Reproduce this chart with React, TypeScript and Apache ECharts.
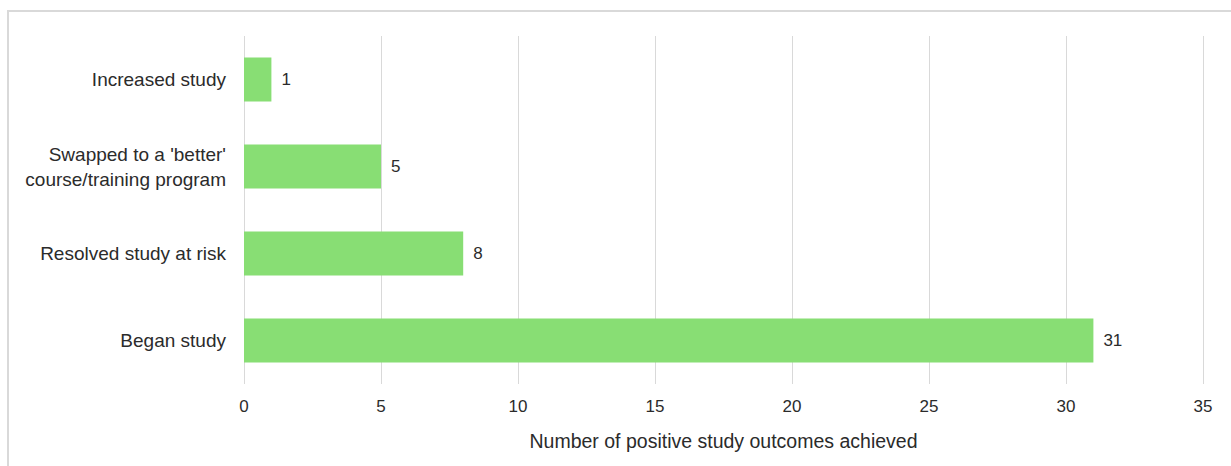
import React, { useEffect, useRef } from "react";
import * as echarts from "echarts";

const categories = ["Began study", "Resolved study at risk", "Swapped to a 'better'\ncourse/training program", "Increased study"];
const values = [31, 8, 5, 1];
const xTicks = { min: 0, max: 35, interval: 5 };
const xAxisName = "Number of positive study outcomes achieved";

const FONT = "'Liberation Sans', Arial, sans-serif";
const TEXT = "#2b2b2b";

export default function App() {
  const ref = useRef<HTMLDivElement>(null);
  useEffect(() => {
    const chart = echarts.init(ref.current!, undefined, { renderer: "svg" });
    chart.setOption({
      animation: false,
      textStyle: { fontFamily: FONT },
      graphic: [
        {
          type: "rect",
          shape: { x: 8, y: 11, width: 1400, height: 600 },
          style: { fill: "none", stroke: "#d9d9d9", lineWidth: 2 },
          silent: true,
        },
      ],
      grid: { left: 244, right: 28, top: 36, bottom: 82 },
      xAxis: {
        type: "value",
        min: xTicks.min,
        max: xTicks.max,
        interval: xTicks.interval,
        axisLine: { show: false },
        axisTick: { show: false },
        splitLine: { show: true, lineStyle: { color: "#d9d9d9", width: 1 } },
        axisLabel: { color: TEXT, fontSize: 17, margin: 14, fontFamily: FONT },
        name: xAxisName,
        nameLocation: "middle",
        nameGap: 47,
        nameTextStyle: { color: TEXT, fontSize: 19.5, fontFamily: FONT },
      },
      yAxis: {
        type: "category",
        data: categories,
        axisLine: { show: false },
        axisTick: { show: false },
        axisLabel: { color: TEXT, fontSize: 19, margin: 18, lineHeight: 25, fontFamily: FONT },
      },
      series: [
        {
          type: "bar",
          data: values,
          barWidth: 44,
          itemStyle: { color: "#88de74" },
          label: {
            show: true,
            position: "right",
            distance: 10,
            color: TEXT,
            fontSize: 17,
            fontFamily: FONT,
          },
        },
      ],
    });
    return () => chart.dispose();
  }, []);
  return (
    <div style={{ position: "fixed", left: 0, top: 0, width: 1231, height: 466, overflow: "hidden", background: "#fff" }}>
      <div ref={ref} style={{ width: 1231, height: 466 }} />
    </div>
  );
}
